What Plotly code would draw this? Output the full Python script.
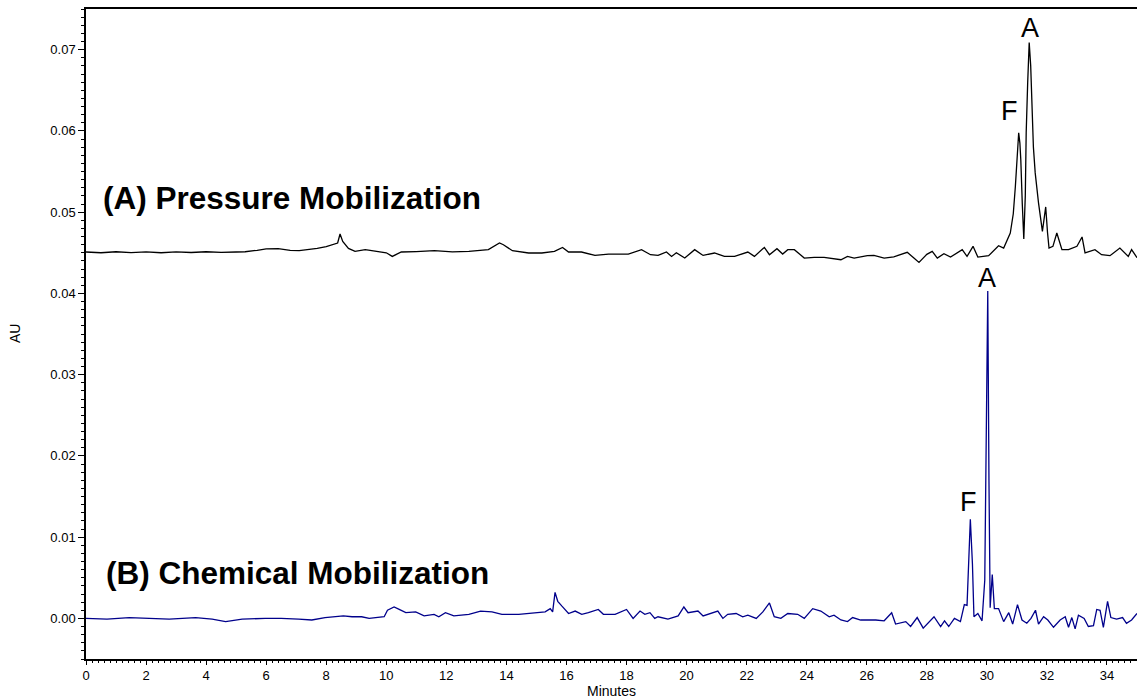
import plotly.graph_objects as go

# (A) Pressure mobilization trace: retention time (min) and absorbance (AU)
pressure_time = [
    0.0, 0.5, 1.0, 1.5, 2.0, 2.5, 3.0, 3.5, 4.0, 4.5, 5.0, 5.3, 5.7, 6.0, 6.4,
    6.8, 7.1, 7.4, 7.7, 8.0, 8.2, 8.38, 8.46, 8.55, 8.74, 8.96, 9.3, 9.6,
    10.0, 10.2, 10.5, 11.0, 11.6, 12.2, 12.75, 13.4, 13.6, 13.77, 13.9, 14.2,
    14.74, 15.18, 15.6, 15.87, 16.07, 16.5, 16.95, 17.4, 18.06, 18.5, 18.8,
    19.05, 19.33, 19.5, 19.66, 19.94, 20.27, 20.55, 20.93, 21.26, 21.6, 22.04,
    22.26, 22.59, 22.76, 23.01, 23.2, 23.37, 23.59, 23.92, 24.25, 24.58, 25.14,
    25.36, 25.58, 26.02, 26.24, 26.58, 26.9, 27.35, 27.57, 27.74, 28.0, 28.18,
    28.35, 28.57, 28.79, 29.18, 29.34, 29.54, 29.7, 30.06, 30.39, 30.56, 30.78,
    30.88, 30.95, 31.0, 31.06, 31.1, 31.13, 31.18, 31.23, 31.28, 31.31, 31.36,
    31.41, 31.46, 31.5, 31.55, 31.61, 31.72, 31.85, 31.96, 32.02,
    32.07, 32.2, 32.33, 32.5, 32.72, 33.0, 33.17, 33.27, 33.6, 33.82, 34.1,
    34.43, 34.71, 34.82, 35.0,
]
pressure_au = [
    0.04509, 0.04500, 0.04512, 0.04502, 0.04510, 0.04500, 0.04511, 0.04503,
    0.04512, 0.04504, 0.04509, 0.04512, 0.04530, 0.04548, 0.04550, 0.04530,
    0.04525, 0.04535, 0.04554, 0.04575, 0.04599, 0.04620, 0.04731, 0.04640,
    0.04554, 0.04517, 0.04538, 0.04525,
    0.04500, 0.04455, 0.04509, 0.04515, 0.04525, 0.04510, 0.04517, 0.04538,
    0.04580, 0.04620, 0.04599, 0.04525,
    0.04497, 0.04497, 0.04517, 0.04566, 0.04509, 0.04509, 0.04467, 0.04484,
    0.04484, 0.04538, 0.04476,
    0.04467, 0.04509, 0.04455, 0.04500, 0.04435, 0.04538, 0.04467, 0.04497,
    0.04455, 0.04455, 0.04509, 0.04455, 0.04566, 0.04476, 0.04550, 0.04484,
    0.04538, 0.04538, 0.04435, 0.04443, 0.04443, 0.04414,
    0.04455, 0.04435, 0.04464, 0.04467, 0.04435, 0.04450, 0.04505, 0.04435,
    0.04381, 0.04480, 0.04517, 0.04435, 0.04488, 0.04447, 0.04538, 0.04455,
    0.04579, 0.04447, 0.04464, 0.04587, 0.04558, 0.04743,
    0.04980, 0.05319, 0.05700, 0.05976, 0.05850, 0.05647, 0.05100, 0.04669,
    0.05200, 0.05976, 0.06600, 0.07086, 0.06800, 0.06264, 0.05800, 0.05483,
    0.05113, 0.04764, 0.05064, 0.04750,
    0.04558, 0.04579, 0.04743, 0.04538, 0.04538, 0.04579, 0.04694, 0.04497,
    0.04538, 0.04476, 0.04464, 0.04558, 0.04455, 0.04538, 0.04440,
]

# (B) Chemical mobilization trace: retention time (min) and absorbance (AU)
chemical_time = [
    0.0, 0.7, 1.44, 2.1, 2.77, 3.65, 4.2, 4.65, 5.2, 5.97, 6.5, 7.08, 7.52,
    7.96, 8.57, 8.86, 9.18, 9.43, 9.93, 10.04, 10.26, 10.43, 10.65, 10.98,
    11.26, 11.59, 11.75, 11.97, 12.25, 12.75, 13.14, 13.52, 13.85, 14.41,
    14.96, 15.29, 15.46, 15.54, 15.62, 15.71, 15.85, 16.07, 16.29, 16.51,
    16.73, 17.06, 17.23, 17.62, 18.0, 18.22, 18.45, 18.61, 18.78, 18.94,
    19.05, 19.38, 19.72, 19.91, 20.05, 20.38, 20.55, 20.77, 21.04, 21.21,
    21.37, 21.65, 21.87, 22.04, 22.32, 22.54, 22.76, 22.92, 23.14, 23.37,
    23.7, 23.92, 24.2, 24.47, 24.75, 24.91, 25.14,
    25.36, 25.53, 25.8, 26.3, 26.58, 26.83, 26.96, 27.3, 27.46, 27.68, 27.88,
    28.24, 28.46, 28.59, 28.73, 28.92, 29.12, 29.25, 29.34, 29.4, 29.45, 29.52,
    29.57, 29.7, 29.84, 29.93, 29.98, 30.03, 30.07, 30.11, 30.18, 30.25,
    30.39, 30.56, 30.73, 30.86, 31.02, 31.17, 31.33, 31.47, 31.62, 31.72,
    31.89, 32.03, 32.22, 32.44, 32.61, 32.72, 32.83, 32.94, 33.05, 33.24,
    33.38, 33.55, 33.66, 33.77, 33.88, 34.02, 34.13, 34.32, 34.52, 34.65,
    34.82, 35.0,
]
chemical_au = [
    0.0000, -0.0001, 0.0001, 0.0000, -0.0001, 0.0001, -0.0001, -0.0004,
    -0.0001, 0.0000, 0.0000, -0.0001, -0.0002, 0.0001, 0.0003, 0.0002,
    0.0002, 0.0000, 0.0002, 0.0010, 0.0014, 0.0011, 0.0007, 0.0008,
    0.0003, 0.0005, 0.0002, 0.0007, 0.0003, 0.0005, 0.0009, 0.0008,
    0.0005, 0.0005, 0.0007, 0.0008, 0.0012, 0.0008, 0.0032, 0.0021,
    0.0015, 0.0006, 0.0009, 0.0005, 0.0007, 0.0011, 0.0005, 0.0005,
    0.0011, 0.0000, 0.0009, 0.0005, 0.0007, 0.0000,
    0.0002, -0.0001, 0.0003, 0.0014, 0.0007, 0.0009, 0.0003, 0.0006,
    0.0009, 0.0000, 0.0005, 0.0006, 0.0002, 0.0004, 0.0000, 0.0008,
    0.0019, 0.0002, 0.0000, 0.0006, 0.0005, 0.0000, 0.0012, 0.0009,
    0.0002, 0.0004, -0.0002,
    -0.0004, 0.0001, -0.0002, -0.0002, -0.0003, 0.0007, -0.0007, -0.0004,
    -0.0010, 0.0001, -0.0012, 0.0002, -0.0010, -0.0003, -0.0010, 0.0000,
    -0.0004, 0.0017, 0.0016, 0.0090, 0.0122, 0.0067,
    0.0002, 0.0006, -0.0003, 0.0047, 0.0232, 0.0403, 0.0170, 0.0013, 0.0054,
    0.0012, 0.0012, -0.0004, 0.0007, -0.0007, 0.0017, -0.0002, -0.0006,
    0.0000, 0.0010, -0.0007, 0.0002, -0.0002, -0.0011, -0.0002, 0.0002,
    -0.0011, 0.0001, -0.0013, 0.0004, 0.0000, -0.0010, -0.0009, 0.0011,
    0.0010, -0.0011, 0.0021, 0.0001, -0.0001, 0.0001, -0.0006, -0.0002,
    0.0006,
]

# Peak labels: (text, time, AU)
peak_labels = [
    ("A", 31.43, 0.0727),
    ("F", 30.77, 0.0624),
    ("A", 30.0, 0.0419),
    ("F", 29.4, 0.0143),
]

# Trace titles: (text, time, AU)
trace_titles = [
    ("(A) Pressure Mobilization", 0.5, 0.0518),
    ("(B) Chemical Mobilization", 0.6, 0.0056),
]

FONT = "Liberation Sans, Arial, sans-serif"

fig = go.Figure()
fig.add_trace(go.Scatter(
    x=pressure_time, y=pressure_au, mode="lines",
    line=dict(color="#000000", width=1.3), name="Pressure Mobilization",
))
fig.add_trace(go.Scatter(
    x=chemical_time, y=chemical_au, mode="lines",
    line=dict(color="#00008B", width=1.3), name="Chemical Mobilization",
))

annotations = []
for text, t, au in trace_titles:
    annotations.append(dict(
        x=t, y=au, xref="x", yref="y", text="<b>%s</b>" % text,
        showarrow=False, xanchor="left", yanchor="middle",
        font=dict(family=FONT, size=31.5, color="#000000"),
    ))
for text, t, au in peak_labels:
    annotations.append(dict(
        x=t, y=au, xref="x", yref="y", text=text,
        showarrow=False, xanchor="center", yanchor="middle",
        font=dict(family=FONT, size=27, color="#000000"),
    ))
# Axis titles
annotations.append(dict(
    x=0, y=0.5, xref="paper", yref="paper", text="AU", textangle=-90,
    showarrow=False, xanchor="center", yanchor="middle", xshift=-71,
    font=dict(family=FONT, size=14, color="#000000"),
))
annotations.append(dict(
    x=0.5, y=0, xref="paper", yref="paper", text="Minutes",
    showarrow=False, xanchor="center", yanchor="middle", yshift=-32,
    font=dict(family=FONT, size=14, color="#000000"),
))

fig.update_layout(
    width=1137, height=699,
    margin=dict(l=86, r=0, t=9, b=40),
    plot_bgcolor="white", paper_bgcolor="white",
    showlegend=False,
    font=dict(family=FONT, size=14, color="#000000"),
    annotations=annotations,
    xaxis=dict(
        range=[0, 35], tick0=0, dtick=2,
        ticks="outside", ticklen=4, tickwidth=1, tickcolor="#000000",
        showline=True, linecolor="#000000", linewidth=1.5, mirror=True,
        showgrid=False, zeroline=False,
        minor=dict(dtick=0.2, tick0=0, ticks="outside", ticklen=2,
                   tickwidth=1, tickcolor="#000000", showgrid=False),
        tickfont=dict(family=FONT, size=13, color="#000000"),
    ),
    yaxis=dict(
        range=[-0.005, 0.075], tick0=0, dtick=0.01, tickformat=".2f",
        ticks="outside", ticklen=6, tickwidth=1, tickcolor="#000000",
        showline=True, linecolor="#000000", linewidth=1.5,
        showgrid=False, zeroline=False,
        minor=dict(dtick=0.001, tick0=0, ticks="outside", ticklen=3,
                   tickwidth=1, tickcolor="#000000", showgrid=False),
        tickfont=dict(family=FONT, size=13, color="#000000"),
    ),
)

fig.write_html("out.html")
